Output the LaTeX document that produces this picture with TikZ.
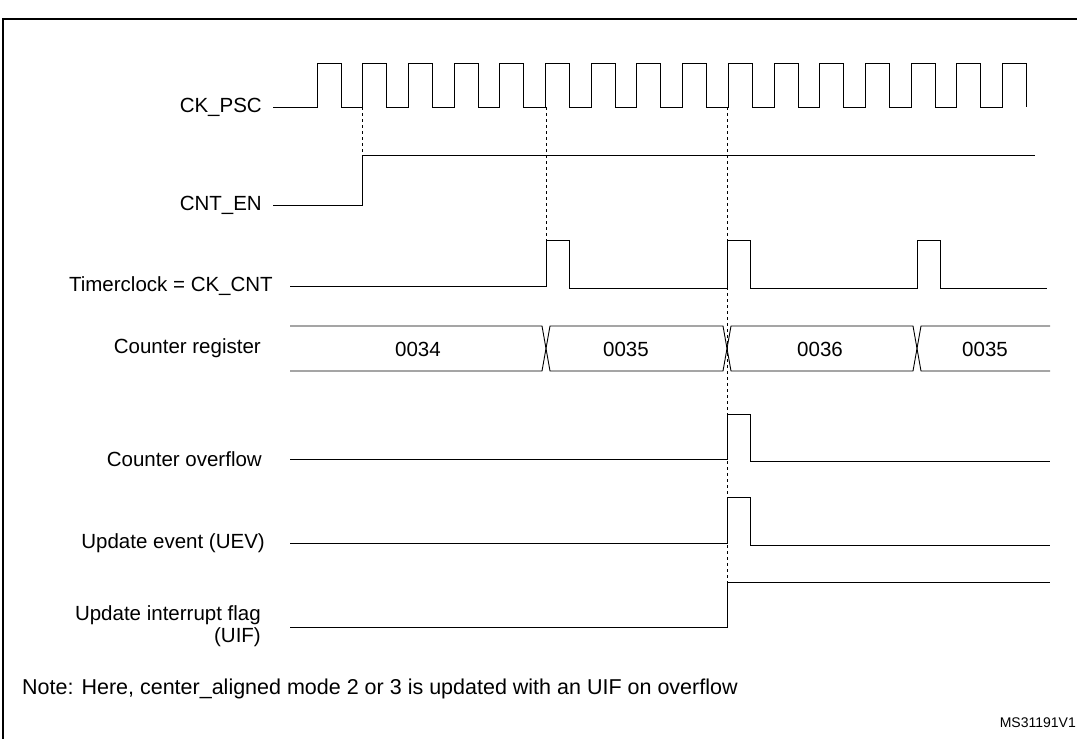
\documentclass[tikz,border=0pt]{standalone}
\usepackage{fontspec}
\setmainfont{Liberation Sans}
\begin{document}
\begin{tikzpicture}[x=1pt,y=-1pt]
    \tikzset{sig/.style={black,line width=0.9pt},
             lbl/.style={anchor=east,inner sep=0pt,font=\fontsize{20.5}{22}\selectfont},
             val/.style={inner sep=0pt,font=\fontsize{20.5}{24}\selectfont},
             guide/.style={black,dashed,line width=0.7pt}}
    \useasboundingbox (0,0) rectangle (1077,739);
    \draw [black,line width=1.6pt] (3,739) -- (3,19) -- (1077,19);
    % labels
    \node [lbl] (ckpsc) at (262,107) {CK\_PSC};
    \node [lbl] (cnten) at (262,205) {CNT\_EN};
    \node [lbl] (tclk) at (273,286) {Timerclock = CK\_CNT};
    \node [lbl] (creg) at (261,348) {Counter register};
    \node [lbl] (covf) at (262,459) {Counter overflow};
    \node [lbl] (uev) at (265,543) {Update event (UEV)};
    \node [lbl,align=right] (uif) at (261,626) {Update interrupt flag\\(UIF)};
    % prescaler clock
    \draw [sig] (273,107) -- (317,107)
      \foreach \i in {1,...,15} {
        -- ++(0,-44) -- ++(24,0) -- ++(0,44) -- ++(21.7,0)
      } -- ++(0,-44) -- ++(24,0) -- ++(0,44);
    % counter enable
    \draw [sig] (273,205) -- (362,205) -- (362,155) -- (1035,155);
    % timer clock
    \draw [sig] (290,286) -- (546,286) -- (546,240) -- (569,240) -- (569,288)
      -- (727,288) -- (727,240) -- (750,240) -- (750,288)
      -- (917,288) -- (917,240) -- (940,240) -- (940,288) -- (1047,288);
    % counter register
    \draw [sig] (290,326) -- (542,326) -- (550,371) -- (723,371) -- (731,326) -- (913,326) -- (921,371) -- (1050,371);
    \draw [sig] (290,371) -- (542,371) -- (550,326) -- (723,326) -- (731,371) -- (913,371) -- (921,326) -- (1050,326);
    \node [val] (v1) at (418,349) {0034};
    \node [val] (v2) at (626,349) {0035};
    \node [val] (v3) at (820,349) {0036};
    \node [val] (v4) at (985,349) {0035};
    % overflow, update event, flag
    \draw [sig] (290,459) -- (727,459) -- (727,414) -- (750,414) -- (750,461) -- (1050,461);
    \draw [sig] (290,543) -- (727,543) -- (727,497) -- (750,497) -- (750,545) -- (1050,545);
    \draw [sig] (290,627) -- (727,627) -- (727,582) -- (1050,582);
    % guides
    \draw [guide] (362,107) -- (362,205);
    \draw [guide] (546,107) -- (546,240);
    \draw [guide] (727,107) -- (727,627);
    \node [anchor=west,inner sep=0pt,font=\fontsize{21.5}{24}\selectfont] (note) at (22,689)
      {Note: Here, center\_aligned mode 2 or 3 is updated with an UIF on overflow};
    \node [anchor=east,inner sep=0pt,font=\fontsize{14}{16}\selectfont] (ref) at (1076,723) {MS31191V1};
\end{tikzpicture}
\end{document}
